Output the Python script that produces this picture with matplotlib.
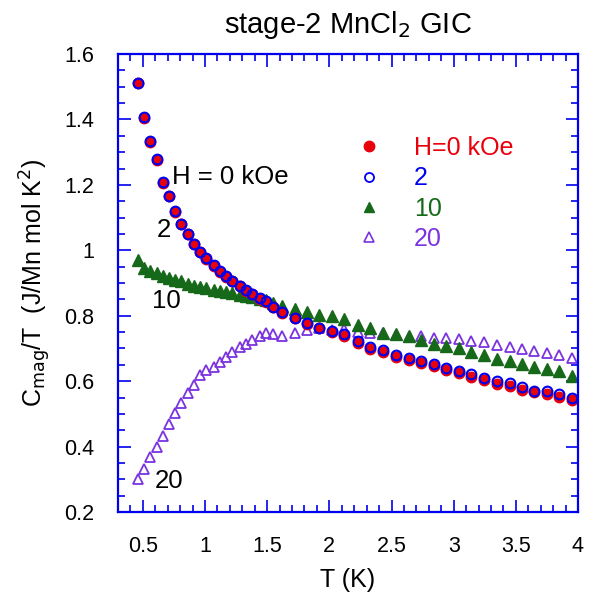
import matplotlib
matplotlib.use("Agg")
import matplotlib.pyplot as plt
from matplotlib.ticker import MultipleLocator
from matplotlib.lines import Line2D

plt.rcParams['font.family'] = ['Liberation Sans', 'DejaVu Sans']

# temperature grid (K)
T = [0.46, 0.51, 0.56, 0.61, 0.66, 0.71, 0.76, 0.81, 0.86, 0.91, 0.96, 1.01,
     1.07, 1.12, 1.17, 1.22, 1.28, 1.33, 1.38, 1.44, 1.49, 1.55, 1.62, 1.72,
     1.82, 1.92, 2.02, 2.12, 2.23, 2.33, 2.43, 2.54, 2.64, 2.74, 2.84, 2.94,
     3.04, 3.14, 3.24, 3.35, 3.45, 3.55, 3.65, 3.75, 3.85, 3.95]

# Cmag/T for each field
c_h0 = [1.512, 1.405, 1.330, 1.275, 1.206, 1.165, 1.118, 1.080, 1.050, 1.018,
        0.994, 0.972, 0.952, 0.934, 0.918, 0.905, 0.890, 0.877, 0.865, 0.852,
        0.841, 0.826, 0.808, 0.792, 0.776, 0.762, 0.750, 0.738, 0.718, 0.698,
        0.688, 0.675, 0.664, 0.655, 0.645, 0.633, 0.626, 0.613, 0.603, 0.592,
        0.586, 0.574, 0.566, 0.560, 0.551, 0.543]
c_h2 = [1.512, 1.408, 1.334, 1.280, 1.208, 1.167, 1.120, 1.081, 1.051, 1.019,
        0.995, 0.975, 0.954, 0.936, 0.920, 0.907, 0.892, 0.879, 0.867, 0.855,
        0.845, 0.828, 0.810, 0.792, 0.778, 0.763, 0.754, 0.743, 0.724, 0.703,
        0.694, 0.681, 0.670, 0.661, 0.652, 0.640, 0.632, 0.621, 0.611, 0.601,
        0.594, 0.582, 0.571, 0.570, 0.560, 0.549]
c_h10 = [0.970, 0.945, 0.937, 0.930, 0.922, 0.915, 0.910, 0.905, 0.898, 0.892,
         0.888, 0.884, 0.880, 0.876, 0.872, 0.868, 0.864, 0.860, 0.857, 0.852,
         0.848, 0.840, 0.829, 0.819, 0.810, 0.802, 0.799, 0.789, 0.771, 0.761,
         0.748, 0.743, 0.738, 0.725, 0.715, 0.707, 0.700, 0.690, 0.680, 0.669,
         0.661, 0.652, 0.644, 0.637, 0.631, 0.615]
c_h20 = [0.302, 0.330, 0.368, 0.399, 0.432, 0.468, 0.502, 0.533, 0.564, 0.588,
         0.618, 0.634, 0.644, 0.659, 0.674, 0.690, 0.703, 0.715, 0.727, 0.738,
         0.746, 0.745, 0.738, 0.748, 0.755, 0.761, 0.757, 0.760, 0.751, 0.746,
         0.748, 0.742, 0.735, 0.738, 0.733, 0.731, 0.728, 0.722, 0.720, 0.712,
         0.705, 0.697, 0.692, 0.687, 0.680, 0.672]

labels = ['H=0 kOe', '2', '10', '20']
red, blue, green, purple = '#e8000b', '#0000ee', '#17691a', '#7b33e0'
axcol = '#0000ee'

fig = plt.figure(figsize=(5.99, 5.94), dpi=100)
ax = fig.add_axes([118 / 599, 1 - 512 / 594, 460 / 599, 458 / 594])

ax.plot(T, c_h20, '^', ms=7.5, mfc='none', mec=purple, mew=1.3)
ax.plot(T, c_h10, '^', ms=8, color=green)
ax.plot(T, c_h0, 'o', ms=7.5, color=red)
ax.plot(T, c_h2, 'o', ms=7, mfc='none', mec=blue, mew=1.5)

ax.set_xlim(0.3, 4.0)
ax.set_ylim(0.2, 1.6)
ax.xaxis.set_minor_locator(MultipleLocator(0.1))
ax.yaxis.set_minor_locator(MultipleLocator(0.05))
ax.set_xticks([0.5, 1, 1.5, 2, 2.5, 3, 3.5, 4])
ax.set_xticklabels(['0.5', '1', '1.5', '2', '2.5', '3', '3.5', '4'])
ax.set_yticks([0.2, 0.4, 0.6, 0.8, 1.0, 1.2, 1.4, 1.6])
ax.set_yticklabels(['0.2', '0.4', '0.6', '0.8', '1', '1.2', '1.4', '1.6'])

for s in ax.spines.values():
    s.set_color(axcol)
    s.set_linewidth(1.6)
ax.tick_params(which='both', direction='in', top=True, right=True,
               color=axcol, width=1.2, labelsize=15.5, pad=17)
ax.tick_params(which='major', length=9)
ax.tick_params(which='minor', length=5)

ax.set_xlabel('T (K)', fontsize=18, labelpad=8)
ax.set_ylabel(r'C$_{\rm mag}$/T  (J/Mn mol K$^2$)', fontsize=18, labelpad=8)
ax.set_title(r'stage-2 MnCl$_2$ GIC', fontsize=21, pad=15)

ax.text(0.735, 1.225, 'H = 0 kOe', fontsize=18.5, va='center')
ax.text(0.611, 1.063, '2', fontsize=18.5, va='center')
ax.text(0.574, 0.845, '10', fontsize=18.5, va='center')
ax.text(0.598, 0.294, '20', fontsize=18.5, va='center')

handles = [
    Line2D([], [], ls='none', marker='o', ms=7.5, color=red),
    Line2D([], [], ls='none', marker='o', ms=6.5, mfc='none', mec=blue, mew=1.3),
    Line2D([], [], ls='none', marker='^', ms=7, color=green),
    Line2D([], [], ls='none', marker='^', ms=6.5, mfc='none', mec=purple, mew=1.2),
]
ax.legend(handles, labels, loc='upper left', bbox_to_anchor=(0.442, 0.87),
          frameon=False, fontsize=18, handletextpad=0.8, labelspacing=0.25,
          labelcolor=[red, blue, green, purple])

fig.savefig('out.png', dpi=100)
